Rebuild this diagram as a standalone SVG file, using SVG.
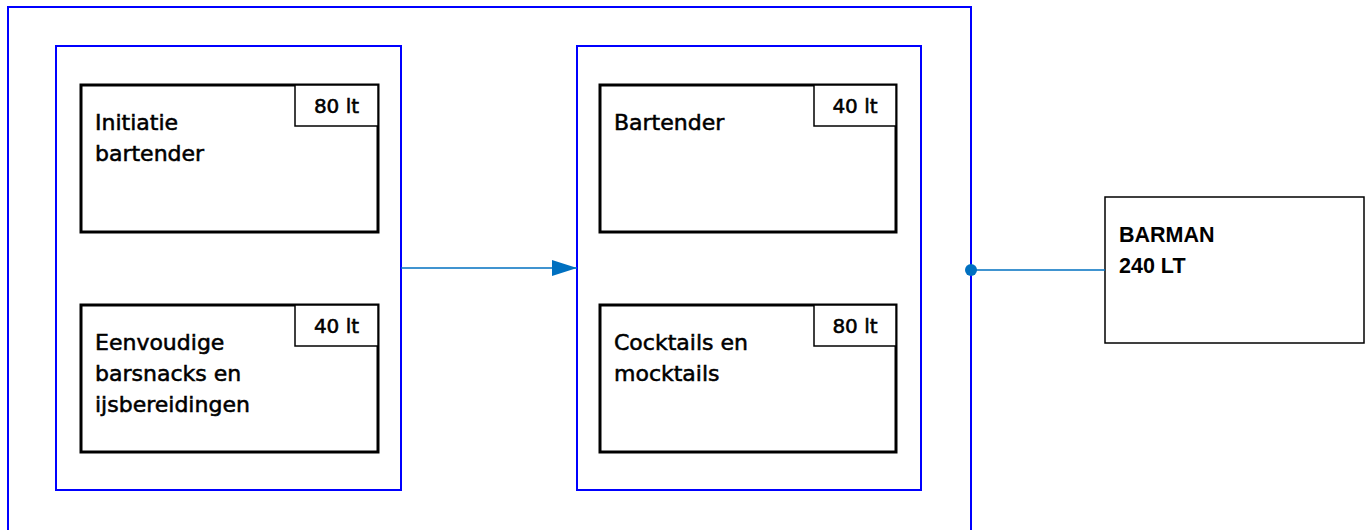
<svg xmlns="http://www.w3.org/2000/svg" width="1370" height="530" viewBox="0 0 1370 530">
<defs>
<style>
.grp{fill:none;stroke:#0000FF;stroke-width:2}
.node{fill:#fff;stroke:#000;stroke-width:3}
.tag{fill:#fff;stroke:#000;stroke-width:1.5}
.t{font-family:"DejaVu Sans",sans-serif;font-size:22px;fill:#000;stroke:#000;stroke-width:0.55}
.tt{font-family:"DejaVu Sans",sans-serif;font-size:20px;fill:#000;stroke:#000;stroke-width:0.55;text-anchor:middle}
.b{font-family:"Liberation Sans",Arial,sans-serif;font-size:21.5px;font-weight:bold;fill:#000}
.conn{fill:none;stroke:#0070C0;stroke-width:1.6}
</style>
<marker id="arr" markerUnits="userSpaceOnUse" markerWidth="26" markerHeight="18" refX="25" refY="8" orient="auto">
<path d="M0,0 L25,8 L0,16 Z" fill="#0070C0"/>
</marker>
</defs>
<rect width="1370" height="530" fill="#fff"/>
<g id="outer"><rect class="grp" x="8" y="7" width="963" height="540"/></g>
<g id="group-left"><rect class="grp" x="56" y="46" width="345" height="444"/></g>
<g id="group-right"><rect class="grp" x="577" y="46" width="344" height="444"/></g>
<g id="node-initiatie">
<rect class="node" x="81" y="85" width="297" height="147"/>
<rect class="tag" x="295" y="85" width="83" height="41"/>
<text class="tt" x="336.5" y="113">80 lt</text>
<text class="t" x="95" y="130">Initiatie</text>
<text class="t" x="95" y="161">bartender</text>
</g>
<g id="node-eenvoudige">
<rect class="node" x="81" y="305" width="297" height="147"/>
<rect class="tag" x="295" y="305" width="83" height="41"/>
<text class="tt" x="336.5" y="333">40 lt</text>
<text class="t" x="95" y="350">Eenvoudige</text>
<text class="t" x="95" y="381">barsnacks en</text>
<text class="t" x="95" y="412">ijsbereidingen</text>
</g>
<g id="node-bartender">
<rect class="node" x="600" y="85" width="296" height="147"/>
<rect class="tag" x="814" y="85" width="82" height="41"/>
<text class="tt" x="855" y="113">40 lt</text>
<text class="t" x="614" y="130">Bartender</text>
</g>
<g id="node-cocktails">
<rect class="node" x="600" y="305" width="296" height="147"/>
<rect class="tag" x="814" y="305" width="82" height="41"/>
<text class="tt" x="855" y="333">80 lt</text>
<text class="t" x="614" y="350">Cocktails en</text>
<text class="t" x="614" y="381">mocktails</text>
</g>
<g id="node-barman">
<rect x="1105" y="197" width="259" height="146" fill="#fff" stroke="#000" stroke-width="1.5"/>
<text class="b" x="1119" y="242">BARMAN</text>
<text class="b" x="1119" y="273">240 LT</text>
</g>
<g id="connectors">
<line class="conn" x1="401" y1="268" x2="577" y2="268" marker-end="url(#arr)"/>
<line class="conn" x1="971" y1="270" x2="1105" y2="270"/>
<circle cx="971" cy="270" r="6" fill="#0070C0"/>
</g>
</svg>
